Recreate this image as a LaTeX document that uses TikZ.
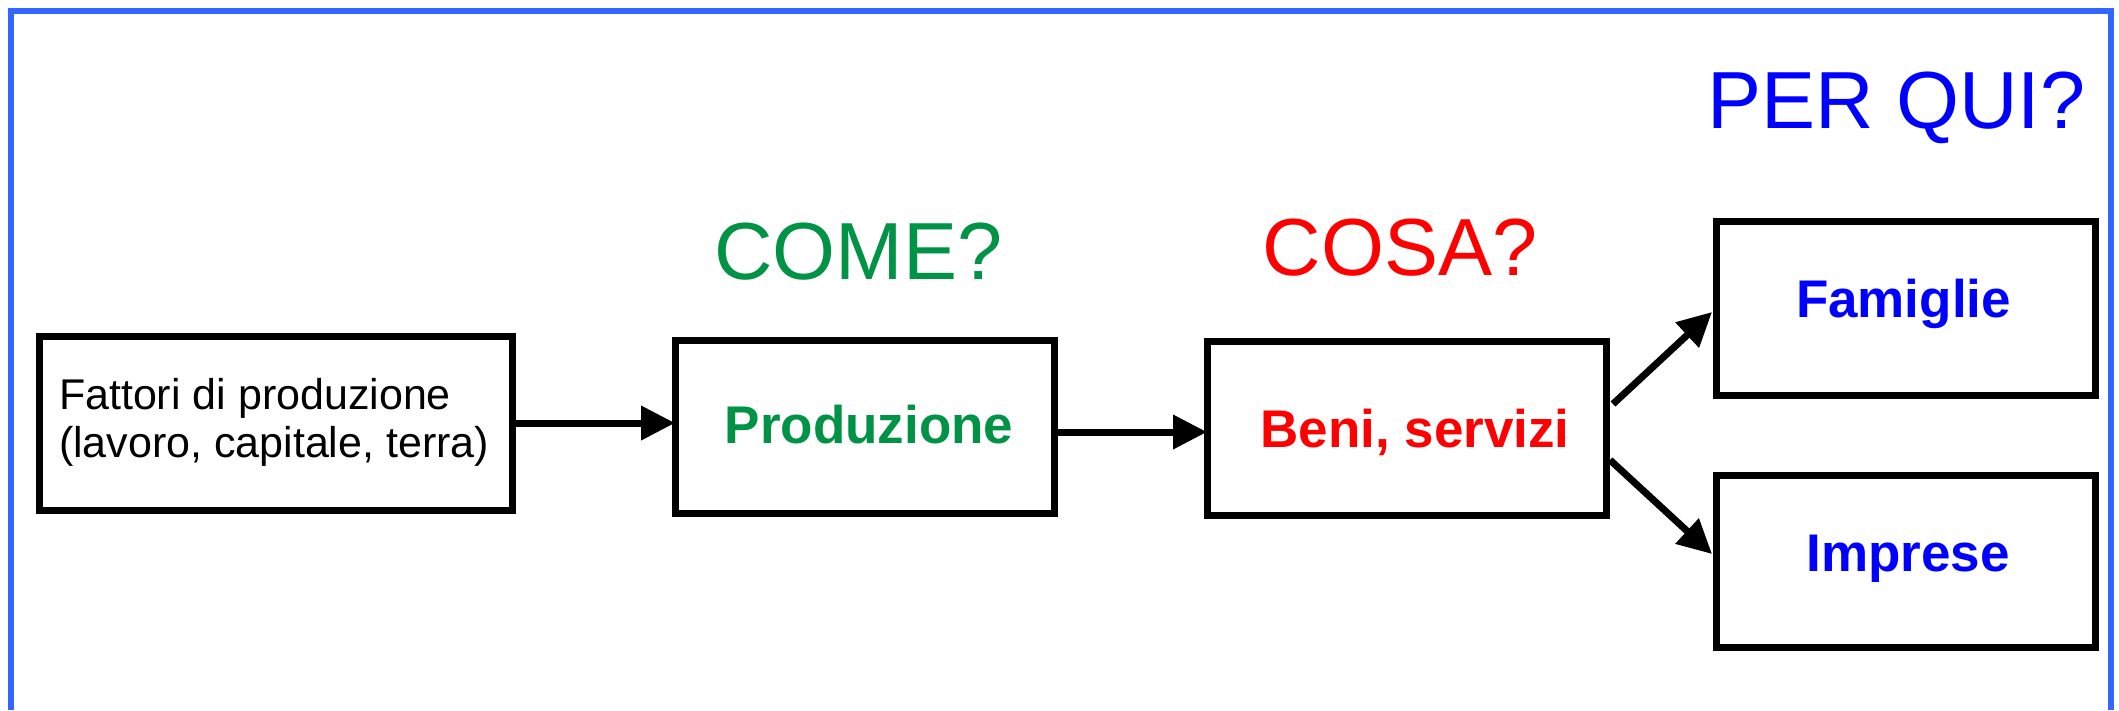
\documentclass[tikz,border=0pt]{standalone}
\usepackage{fontspec}
\setmainfont{Liberation Sans}
\usetikzlibrary{arrows.meta}
\definecolor{frameblue}{RGB}{51,102,255}
\definecolor{cgreen}{RGB}{0,146,69}
\definecolor{cred}{RGB}{255,0,0}
\definecolor{cblue}{RGB}{0,0,255}
\begin{document}
\begin{tikzpicture}[x=1pt,y=-1pt,
  box/.style={draw=black, line width=7pt, inner sep=0pt, outer sep=0pt, fill=white},
  conn/.style={draw=black, line width=7pt, line cap=butt, -{Triangle[length=34pt,width=33pt]}},
  txt/.style={inner sep=0pt, outer sep=0pt, anchor=base},
  big/.style={txt, font=\fontsize{81}{97}\selectfont},
  boldlab/.style={txt, font=\fontsize{53}{64}\selectfont\bfseries},
  plain/.style={inner sep=0pt, outer sep=0pt, anchor=base west, font=\fontsize{43}{48}\selectfont}]
\useasboundingbox (0,0) rectangle (2119,710);
% frame
\draw[frameblue, line width=6pt, line join=miter] (11,710) -- (11,11) -- (2111,11) -- (2111,710);
% boxes
\node[box, minimum width=473pt, minimum height=174pt] (b1) at (275.5,423) {};
\node[box, minimum width=379pt, minimum height=173pt] (b2) at (864.5,426.5) {};
\node[box, minimum width=399pt, minimum height=174pt] (b3) at (1406.5,428) {};
\node[box, minimum width=379pt, minimum height=174pt] (b4) at (1905.5,308) {};
\node[box, minimum width=379pt, minimum height=172pt] (b5) at (1905.5,561) {};
% box texts
\node[plain] (t1a) at (59,409) {Fattori di produzione};
\node[plain] (t1b) at (59,457) {(lavoro, capitale, terra)};
\node[boldlab, text=cgreen] (t2) at (869,443) {Produzione};
\node[boldlab, text=cred] (t3) at (1415,447) {Beni, servizi};
\node[boldlab, text=cblue] (t4) at (1903.5,317) {Famiglie};
\node[boldlab, text=cblue] (t5) at (1908,571) {Imprese};
% questions
\node[big, text=cgreen] (q1) at (858.5,279) {COME?};
\node[big, text=cred] (q2) at (1400,275) {COSA?};
\node[big, text=cblue] (q3) at (1896.5,128) {PER QUI?};
% connectors
\coordinate (a2s) at ([yshift=-5.5pt]b2.east);
\coordinate (a3s) at ([xshift=7pt,yshift=24pt]b3.east);
\coordinate (a3e) at ([xshift=-4pt,yshift=-4pt]b4.west);
\coordinate (a4s) at ([xshift=4pt,yshift=-32pt]b3.east);
\coordinate (a4e) at ([xshift=-4pt,yshift=7pt]b5.west);
\draw[conn] (b1.east) -- (b1.east -| b2.west);
\draw[conn] (a2s) -- (a2s -| b3.west);
\draw[conn] (a3s) -- (a3e);
\draw[conn] (a4s) -- (a4e);
\end{tikzpicture}
\end{document}
